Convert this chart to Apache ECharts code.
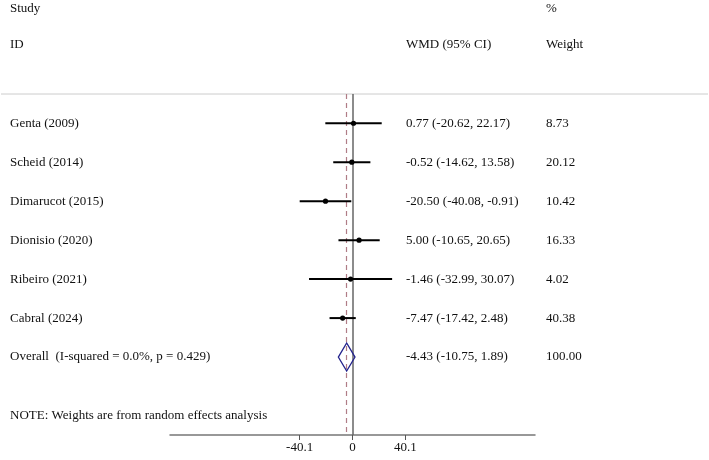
<!DOCTYPE html>
<html>
<head>
<meta charset="utf-8">
<script src="https://cdn.jsdelivr.net/npm/echarts@6/dist/echarts.min.js"></script>
<style>
  html, body { margin: 0; padding: 0; background: #fff; }
  #chart { width: 709px; height: 460px; }
</style>
</head>
<body>
<div id="chart"></div>
<script>
// study data
const studies = ['Genta (2009)', 'Scheid (2014)', 'Dimarucot (2015)', 'Dionisio (2020)', 'Ribeiro (2021)', 'Cabral (2024)'];
const wmd = [0.77, -0.52, -20.50, 5.00, -1.46, -7.47];
const ciLow = [-20.62, -14.62, -40.08, -10.65, -32.99, -17.42];
const ciHigh = [22.17, 13.58, -0.91, 20.65, 30.07, 2.48];
const weights = [8.73, 20.12, 10.42, 16.33, 4.02, 40.38];

const overallLabel = 'Overall  (I-squared = 0.0%, p = 0.429)';
const overall = [-4.43, -10.75, 1.89, 100.00]; // est, low, high, weight

const xTicks = [-40.1, 0, 40.1];

const FONT = '"Liberation Serif", "DejaVu Serif", serif';
const COL_CI = 406, COL_W = 546, COL_NAME = 10;

const fmt = v => v.toFixed(2);

// rows: 1..6 studies, 7 overall
const studyRows = studies.map((s, i) => [i + 1, ciLow[i], ciHigh[i], wmd[i]]);
const textRows = studies.map((s, i) => [i + 1, s, fmt(wmd[i]) + ' (' + fmt(ciLow[i]) + ', ' + fmt(ciHigh[i]) + ')', fmt(weights[i])]);
textRows.push([7, overallLabel, fmt(overall[0]) + ' (' + fmt(overall[1]) + ', ' + fmt(overall[2]) + ')', fmt(overall[3])]);

const chart = echarts.init(document.getElementById('chart'));

function txt(x, y, s) {
  return {
    type: 'text', x: x, y: y,
    style: { text: s, font: '13px ' + FONT, fill: '#111', verticalAlign: 'middle', align: 'left' }
  };
}

chart.setOption({
  animation: false,
  grid: { left: 170, width: 365, top: 94, bottom: 25 },
  xAxis: {
    type: 'value', min: -138.5, max: 138.5,
    splitLine: { show: false },
    axisLine: { show: true, lineStyle: { color: '#777', width: 1.5 } },
    axisTick: { show: true, customValues: xTicks, length: 5, lineStyle: { color: '#555' } },
    axisLabel: { customValues: xTicks, formatter: v => String(v), color: '#111', fontFamily: FONT, fontSize: 13, margin: 6 }
  },
  yAxis: {
    type: 'value', min: 0.25, max: 9.0, inverse: true, show: false
  },
  graphic: [
    { type: 'line', shape: { x1: 1, y1: 94, x2: 708, y2: 94 }, style: { stroke: '#ccc', lineWidth: 1 } },
    txt(COL_NAME, 9, 'Study'),
    txt(COL_W, 9, '%'),
    txt(COL_NAME, 45, 'ID'),
    txt(COL_CI, 45, 'WMD (95% CI)'),
    txt(COL_W, 45, 'Weight'),
    txt(COL_NAME, 416, 'NOTE: Weights are from random effects analysis')
  ],
  series: [
    {
      // reference lines, drawn under the marks
      type: 'custom',
      z: 1,
      data: [],
      renderItem: () => null,
      markLine: {
        symbol: 'none', silent: true, label: { show: false }, z: 1,
        data: [
          { xAxis: 0, lineStyle: { color: '#666', width: 1.5, type: 'solid' } },
          { xAxis: overall[0], lineStyle: { color: '#b07c86', width: 1.2, type: [5, 4] } }
        ]
      }
    },
    {
      type: 'custom',
      z: 5,
      data: studyRows,
      clip: false,
      renderItem: (params, api) => {
        const y = api.value(0);
        const a = api.coord([api.value(1), y]);
        const b = api.coord([api.value(2), y]);
        const c = api.coord([api.value(3), y]);
        return {
          type: 'group',
          children: [
            { type: 'line', z2: 1, shape: { x1: a[0], y1: a[1], x2: b[0], y2: b[1] }, style: { stroke: '#000', lineWidth: 2 } },
            { type: 'circle', z2: 2, shape: { cx: c[0], cy: c[1], r: 2.6 }, style: { fill: '#000' } }
          ]
        };
      }
    },
    {
      type: 'custom',
      z: 5,
      data: [[7, overall[1], overall[2], overall[0]]],
      clip: false,
      renderItem: (params, api) => {
        const y = api.value(0);
        const h = 0.36;
        const p1 = api.coord([api.value(1), y]);
        const p2 = api.coord([api.value(3), y - h]);
        const p3 = api.coord([api.value(2), y]);
        const p4 = api.coord([api.value(3), y + h]);
        return {
          type: 'polygon',
          shape: { points: [p1, p2, p3, p4] },
          style: { fill: 'none', stroke: '#23238c', lineWidth: 1.3 }
        };
      }
    },
    {
      type: 'custom',
      data: textRows,
      clip: false,
      renderItem: (params, api) => {
        const row = textRows[params.dataIndex];
        const p = api.coord([0, row[0]]);
        return {
          type: 'group',
          children: [
            txt(COL_NAME, p[1], row[1]),
            txt(COL_CI, p[1], row[2]),
            txt(COL_W, p[1], row[3])
          ]
        };
      }
    }
  ]
});
</script>
</body>
</html>
